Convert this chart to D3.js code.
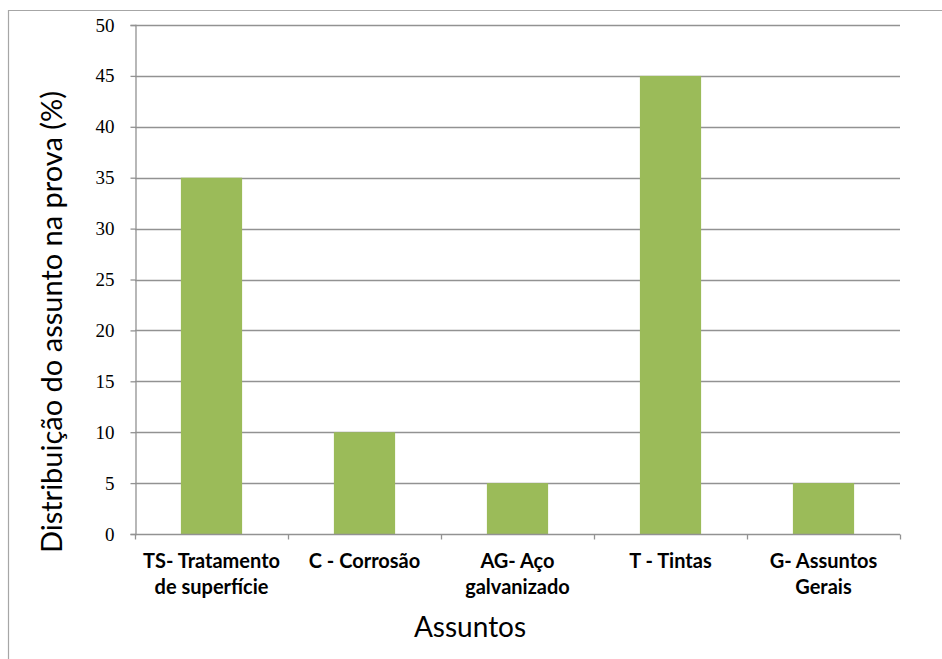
<!DOCTYPE html>
<html>
<head>
<meta charset="utf-8">
<script src="https://cdn.jsdelivr.net/npm/d3@7/dist/d3.min.js"></script>
<style>
  html, body { margin: 0; padding: 0; background: #fff; }
  svg { display: block; }
</style>
</head>
<body>
<svg id="chart" width="942" height="659"></svg>
<script>
const categories = [
  ["TS- Tratamento", "de superfície"],
  ["C - Corrosão"],
  ["AG- Aço", "galvanizado"],
  ["T - Tintas"],
  ["G- Assuntos", "Gerais"]
];
const values = [35, 10, 5, 45, 5];
const yTicks = [0, 5, 10, 15, 20, 25, 30, 35, 40, 45, 50];
const yTitle = "Distribuição do assunto na prova (%)";
const xTitle = "Assuntos";

const W = 942, H = 659;
const svg = d3.select("#chart");
const plot = { left: 135, right: 900, top: 25, bottom: 534 };

// outer border
svg.append("path")
  .attr("d", `M8.5,${H + 2} L8.5,10.5 L${W + 2},10.5`)
  .attr("fill", "none").attr("stroke", "#a6a6a6").attr("stroke-width", 1.2);

const keys = categories.map((c, i) => i);
const x = d3.scaleBand().domain(keys).range([plot.left, plot.right]).padding(0);
const y = d3.scaleLinear().domain([0, 50]).range([plot.bottom, plot.top]);

// gridlines
svg.append("g").selectAll("line").data(yTicks.filter(t => t > 0)).join("line")
  .attr("x1", plot.left).attr("x2", plot.right)
  .attr("y1", d => Math.round(y(d)) + 0.5).attr("y2", d => Math.round(y(d)) + 0.5)
  .attr("stroke", "#929292").attr("stroke-width", 1.3);

// bars
const bw = x.bandwidth() * 0.4;
svg.append("g").selectAll("rect").data(values).join("rect")
  .attr("x", (d, i) => x(i) + (x.bandwidth() - bw) / 2)
  .attr("width", bw)
  .attr("y", d => y(d))
  .attr("height", d => y(0) - y(d))
  .attr("fill", "#9bbb59");

// y axis
const yAxis = d3.axisLeft(y).tickValues(yTicks).tickSize(5).tickPadding(16);
const gy = svg.append("g").attr("transform", `translate(${plot.left + 0.5},0)`).call(yAxis);
gy.select(".domain").attr("stroke", "#929292").attr("stroke-width", 1.3);
gy.selectAll(".tick line").attr("stroke", "#929292").attr("stroke-width", 1.3);
gy.selectAll(".tick text")
  .attr("font-family", "'Liberation Serif', 'Times New Roman', serif")
  .attr("font-size", 19).attr("fill", "#000");

// x axis
const gx = svg.append("g").attr("transform", `translate(0,${plot.bottom + 0.5})`);
gx.append("line").attr("x1", plot.left).attr("x2", plot.right)
  .attr("stroke", "#929292").attr("stroke-width", 1.3);
const bounds = keys.map(k => x(k)).concat([plot.right]);
gx.selectAll("line.tk").data(bounds).join("line").attr("class", "tk")
  .attr("x1", d => Math.round(d) + 0.5).attr("x2", d => Math.round(d) + 0.5)
  .attr("y1", 0).attr("y2", 5)
  .attr("stroke", "#929292").attr("stroke-width", 1.3);

const labels = svg.append("g")
  .attr("font-family", "Lato, 'Open Sans', sans-serif")
  .attr("font-weight", "bold").attr("font-size", 20).attr("fill", "#000")
  .attr("text-anchor", "middle");
categories.forEach((lines, i) => {
  const t = labels.append("text").attr("x", x(i) + x.bandwidth() / 2).attr("y", 568);
  lines.forEach((ln, j) => {
    t.append("tspan").attr("x", x(i) + x.bandwidth() / 2).attr("dy", j === 0 ? 0 : 26).text(ln);
  });
});

// axis titles
svg.append("text")
  .attr("x", 470).attr("y", 637)
  .attr("text-anchor", "middle")
  .attr("font-family", "Lato, 'Open Sans', sans-serif")
  .attr("font-size", 28).attr("fill", "#000")
  .text(xTitle);

svg.append("text")
  .attr("transform", `translate(62,322) rotate(-90)`)
  .attr("text-anchor", "middle")
  .attr("font-family", "Lato, 'Open Sans', sans-serif")
  .attr("font-size", 29).attr("fill", "#000")
  .text(yTitle);
</script>
</body>
</html>
